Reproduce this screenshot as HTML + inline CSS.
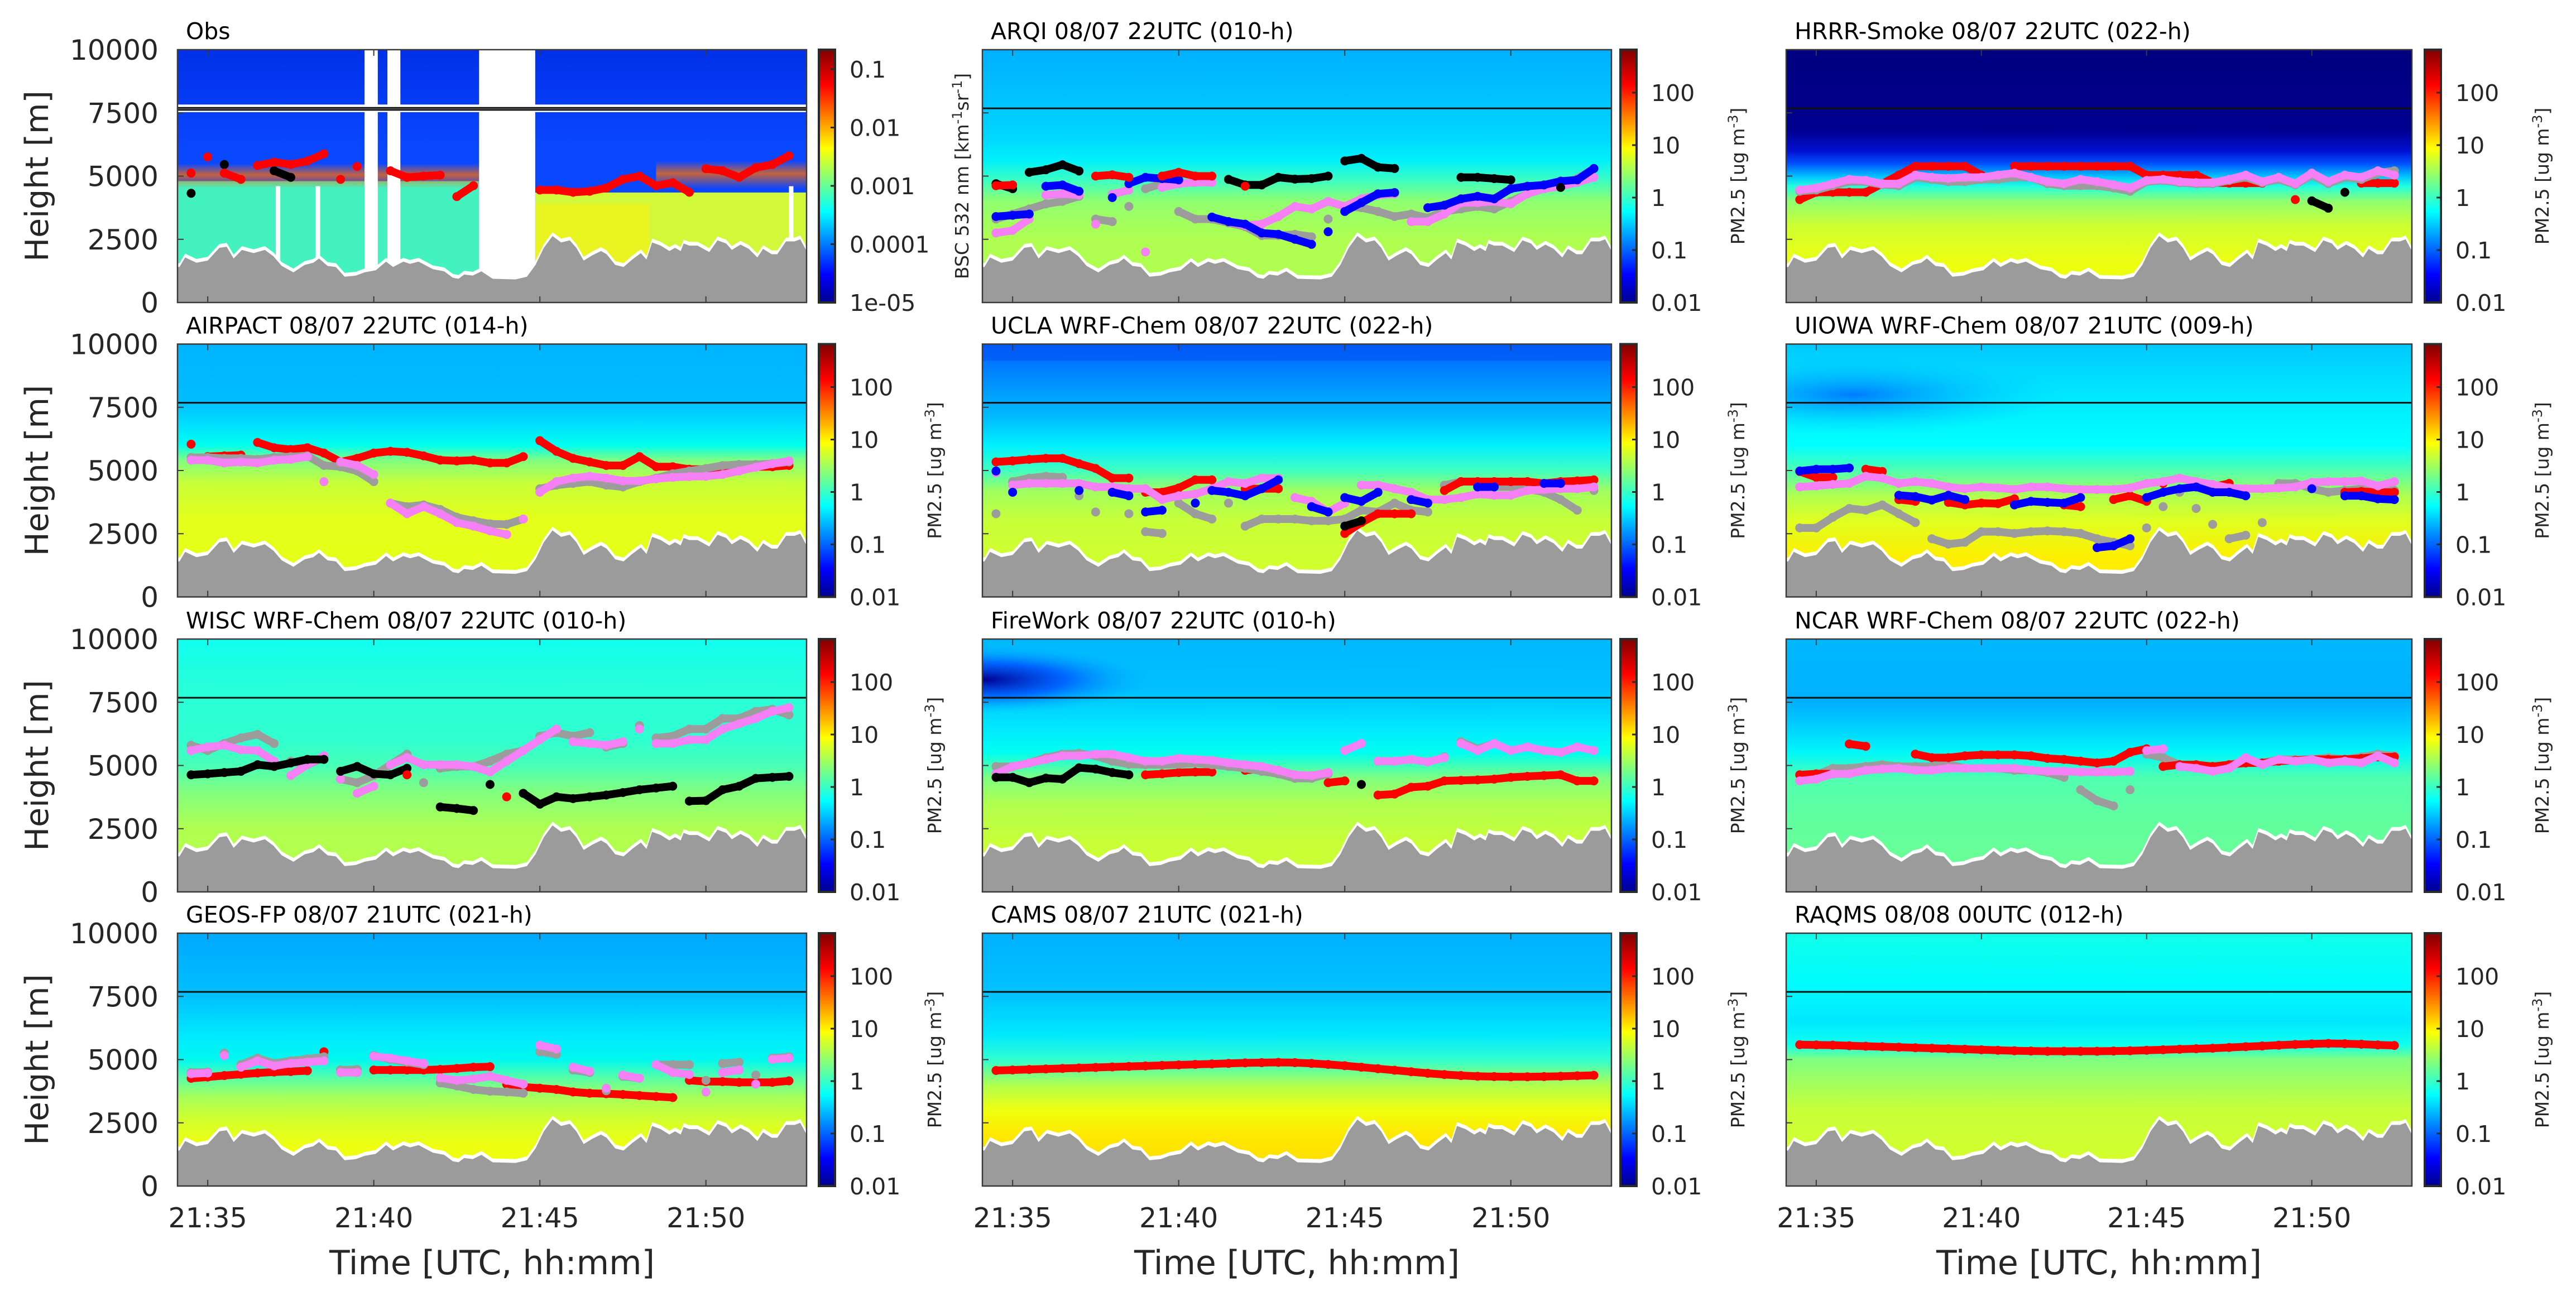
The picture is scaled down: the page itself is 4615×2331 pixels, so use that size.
<!DOCTYPE html>
<html><head><meta charset="utf-8"><title>Smoke layer height comparison</title>
<style>
html,body{margin:0;padding:0;background:#fff;}
svg{display:block;font-family:"DejaVu Sans","Liberation Sans",sans-serif;}
</style></head>
<body>
<svg id="fig" xmlns="http://www.w3.org/2000/svg" width="4615" height="2331" viewBox="0 0 4615 2331">
<defs id="defs"></defs>
<rect x="0" y="0" width="4615" height="2331" fill="#ffffff"/>
</svg>
<script>
// ---------- data ----------
const T = [34.5,35,35.5,36,36.5,37,37.5,38,38.5,39,39.5,40,40.5,41,41.5,42,42.5,43,43.5,44,44.5,45,45.5,46,46.5,47,47.5,48,48.5,49,49.5,50,50.5,51,51.5,52,52.5];
const terrainT = [34.15,34.32,34.66,35.00,35.35,35.57,35.78,36.03,36.38,36.72,36.98,37.23,37.58,37.92,38.18,38.35,38.61,38.86,39.12,39.46,39.72,40.06,40.37,40.58,40.89,41.09,41.35,41.78,42.12,42.38,42.55,42.72,42.98,43.24,43.58,44.27,44.61,44.87,45.12,45.38,45.64,45.90,46.10,46.32,46.58,46.84,47.01,47.27,47.52,47.78,48.04,48.21,48.38,48.64,48.90,49.07,49.24,49.33,49.50,49.75,50.10,50.35,50.61,50.78,51.04,51.29,51.55,51.72,51.98,52.15,52.41,52.67,52.84,53.03];
const terrainH = [1403,1784,1572,1657,2164,2206,1741,2079,1953,2079,1826,1445,1192,1488,1572,1741,1445,1403,1023,1065,1192,1276,1615,1403,1615,1530,1615,1319,1234,981,938,1107,1065,1234,938,913,1023,1488,2164,2629,2375,2460,2164,1657,1868,2037,1910,1488,1403,1699,1953,1699,2375,2249,2037,2164,2037,2333,2249,2249,1995,2460,2333,2079,2291,2122,1784,2122,1910,1910,2418,2418,2502,2037];
const yTicks = [0,2500,5000,7500,10000];
const xTickVals = [35,40,45,50];
const xTickLabels = ['21:35','21:40','21:45','21:50'];
const pmTickVals = [0.01,0.1,1,10,100];
const pmTickLabels = ['0.01','0.1','1','10','100'];
const bscTickVals = [1e-5,1e-4,1e-3,1e-2,1e-1];
const bscTickLabels = ['1e-05','0.0001','0.001','0.01','0.1'];

const obsRed = [5120,5760,5120,4870,5420,5550,5460,5590,5880,4870,5380,null,5210,4950,5000,5040,4190,4620,null,null,null,4450,4450,4360,4400,4530,4870,5000,4620,4740,4360,5290,5210,4950,5330,5460,5800];
const obsBlack = [4320,null,5460,null,null,5210,4950];

const arqiRed = [4620,4650,null,null,null,null,5000,5050,4950,null,5000,5150,5000,5000,null,4600];
const arqiBlack = [4700,4500,5150,5250,5450,5200,null,null,null,null,null,null,null,null,4870,4650,4650,4950,4880,4900,5000,5600,5700,5350,5300,null,null,null,4950,4950,4900,4850,null,null,4550];
const arqiBlue = [3400,3450,3500,4600,4650,4400,null,4150,4700,4950,4900,4850,null,3380,3200,3100,2750,2700,2500,2300,2800,3600,3950,4300,4350,null,3750,3850,4100,4200,4100,4500,4600,4650,4800,4850,5300];
const arqiViolet = [2750,2850,3300,4250,4300,4250,3100,4280,4450,2000,4550,4700,4750,4750,3200,3050,3100,3400,3800,3700,4000,3800,4100,4250,4300,3200,3200,3500,3950,3950,4000,3900,4300,4500,4600,4750,4950];
const arqiGray = [3300,3500,3700,3900,4000,4200,3300,3200,3800,4500,4700,3600,3300,3300,3150,3000,2650,2650,2700,2600,3300,3800,3750,3600,3400,3500,3350,3600,3700,3800,3700,4000,4300,4500,4700,4900,5300];

const hrrrRed = [4070,4360,4360,4360,4360,4700,5040,5390,5390,5390,5390,5040,null,5390,5390,5390,5390,5390,5390,5390,5390,5040,5040,5040,5040,4740,4720,4720,4720,null,4070,null,null,null,4720,4720,4720];
const hrrrViolet = [4450,4530,4700,4870,4830,4700,4700,5040,4950,4910,4950,4950,5040,5120,4950,4780,4700,4870,4780,4660,4530,4830,4870,4780,4740,4740,4870,5040,4780,4950,4700,5120,4780,5040,4950,5210,5040];
const hrrrGray = [4400,4450,4620,4780,4780,4660,4620,4950,4870,4780,4780,4870,4870,4950,4950,4700,4620,4620,4620,4530,4400,4780,4830,4740,4700,4700,4830,4950,4740,4870,4660,5040,4700,4950,4870,5120,5210];
const hrrrBlack = [null,null,null,null,null,null,null,null,null,null,null,null,null,null,null,null,null,null,null,null,null,null,null,null,null,null,null,null,null,null,null,4020,3730,4360];

const airRed = [6040,5550,5580,5610,6110,5900,5830,5900,5690,5340,5480,5690,5760,5720,5580,5410,5380,5410,5300,5300,5550,6180,5760,5480,5340,5200,5200,5550,5150,5150,5050,5050,5050,5010,5150,5150,5200];
const airViolet = [5410,5410,5300,5340,5300,5410,5440,5550,4560,5340,5200,4840,3710,3290,3570,3290,2940,2800,2610,2470,3080,4140,4560,4700,4770,4700,4590,4590,4670,4730,4760,4770,4840,4980,5130,5270,5380];
const airGray = [5520,5520,5480,5480,5440,5520,5550,5580,5200,5150,4980,4560,3710,3570,3640,3460,3150,3010,2890,2870,3080,4280,4420,4490,4560,4420,4350,4560,4700,4870,4980,5080,5200,5240,5240,5270,5340];

const uclaRed = [5340,5380,5440,5480,5480,5270,5080,4700,4700,4140,4140,4310,4630,4630,null,4280,4280,4280,null,null,null,2510,2940,3290,3290,3290,null,4210,4560,4560,4560,4560,4560,4490,4560,4590,4630];
const uclaViolet = [4910,4420,4490,4490,4490,4490,4350,4350,4280,4280,3850,4000,4070,4280,4560,4490,4700,4700,3930,3780,3360,3710,4420,4420,4280,4140,3850,3850,3930,4070,4020,4020,4210,4250,4280,4280,4350];
const uclaBlue = [4980,4140,null,null,null,4210,null,4140,4000,3360,3430,null,3710,4210,4140,4000,4280,4630,null,3570,3360,3930,3780,4140,null,3850,3710,null,null,4350,4350,null,null,4490,4490];
const uclaGray = [3290,4560,4700,4770,4730,4000,3360,4280,3290,2580,2510,3710,3290,3080,3710,2800,3080,3080,3080,3010,3010,3080,3430,3360,3710,3430,3360,4420,4560,4560,4350,4350,4280,4140,3850,3430,4210];
const uclaBlack = [null,null,null,null,null,null,null,null,null,null,null,null,null,null,null,null,null,null,null,null,null,2800,3010];

const uiowaBlue = [4980,5050,5050,5100,null,null,4020,3970,3830,4020,3850,null,null,3640,3780,3740,3710,3930,1950,2020,2300,3930,4140,4280,4350,4140,4140,4000,null,null,null,4280,null,4000,4000,3880,3850];
const uiowaRed = [4960,4730,4730,null,5050,4960,3850,3780,null,3740,3640,3710,3690,3880,null,null,3640,3570,null,3850,4000,3780,4490,null,null,4350,4490,null,null,null,null,null,null,4140,4170,4140,4140];
const uiowaViolet = [4350,4390,4450,4490,4770,4700,4490,4560,4490,4350,4280,4350,4310,4250,4350,4350,4280,4250,4250,4250,4310,4490,4560,4700,4560,4450,4310,4280,4280,4310,4350,4530,4560,4560,4590,4390,4560];
const uiowaGray = [2730,2730,3150,3500,3430,3640,3290,2940,2300,2090,2160,2580,2580,2510,2580,2610,2580,2510,2300,2160,2020,2730,3570,4140,3500,2870,2300,2440,2940,4490,4490,4280,4140,4210,4280,4280,4210];

const wiscViolet = [5590,5730,5800,5620,5590,5170,4600,5030,5380,4460,3900,4180,5030,5310,5030,5030,5030,4960,4740,5170,5590,6020,6440,5940,5870,5800,5940,6440,5870,5870,6020,6020,6440,6650,6860,7140,7290];
const wiscGray = [5800,5590,5870,6090,6230,5870,5170,5030,5310,4460,4320,4600,5030,5450,4320,4890,4960,4960,5170,5450,5590,6160,6300,6160,6300,5730,5870,6580,6090,6160,6440,6440,6860,6860,7140,7220,7000];
const wiscBlack = [4630,4670,4720,4770,5030,4960,5100,5240,5240,4770,4960,4670,4630,4890,null,3360,3300,3220,4250,null,3900,3470,3760,3690,3760,3830,3930,4040,4110,4180,3590,3610,4040,4180,4490,4530,4570];
const wiscRed = [null,null,null,null,null,null,null,null,null,null,null,null,null,4630,null,null,null,null,null,3760];

const fireViolet = [4670,4960,5100,5240,5380,5380,5450,5450,5310,5170,5170,5280,5240,5200,5100,5030,4960,4810,4630,4600,4720,5590,5870,5170,5170,5240,5140,5310,5870,5590,5870,5590,5730,5590,5520,5730,5590];
const fireGray = [4960,4960,5100,5310,5450,5480,5380,5170,5050,5030,5030,5050,5100,5030,4960,4890,4770,4670,4490,4490,4670,null,null,null,null,null,null,5340,5940,5660,5870];
const fireBlack = [4530,4530,4320,4500,4460,4910,4860,4720,4630,null,null,null,null,null,null,null,null,null,null,null,null,null,4250];
const fireRed = [null,null,null,null,null,null,null,null,null,4630,4670,4720,4740,4740,null,4810,4860,4810,4600,null,4320,4390,null,3830,3870,4140,4180,4390,4410,4430,4460,4530,4570,4600,4630,4390,4390];

const ncarRed = [4630,4670,4670,5850,5760,null,null,5450,5310,5310,5380,5420,5420,5420,5380,5280,5240,5170,5100,5170,5520,5660,4960,5030,5030,4960,5030,5100,5100,5170,5200,5240,5240,5240,5280,5340,5340];
const ncarViolet = [4390,4460,4670,4670,4810,4860,4890,4810,4810,4890,4890,4890,4890,4890,4810,4770,4770,4740,4740,4740,4770,5590,5660,4960,4890,4770,4890,5310,5030,5240,5170,5240,5100,5170,5100,5380,5100];
const ncarGray = [4630,4630,4890,4890,4960,5030,4960,4960,4960,5050,4890,4890,4890,4810,4810,4720,4530,4040,3610,3400,4040,5450,5310,5030,4960,4960,5030,5170,5100,5240,5240,5240,5310,5240,5340,5450,5380];

const geosRed = [4260,4310,4370,4420,4470,4510,4530,4560,5310,4590,null,4590,4590,4590,4590,4610,4650,4700,4720,4030,3920,3870,3820,3720,3670,3650,3620,3580,3540,3500,4180,4130,4130,4100,4100,4100,4160];
const geosViolet = [4440,4470,5160,4700,4950,4750,4850,4900,4950,4490,4490,5130,5060,4950,4850,4280,4180,4230,4340,4180,4030,5570,5420,4700,4540,3870,4390,4260,4800,4490,4410,3720,4490,4590,4030,5010,5060];
const geosGray = [4490,4510,5260,4800,5060,4850,4950,5030,5110,4590,4610,5160,5010,4900,4800,4080,3960,3820,3750,3720,3670,5310,5210,4590,4490,3770,4340,4260,4800,4800,4800,4180,4850,4900,4390,5060,5110];

const camsRed = [4570,4590,4610,4630,4650,4670,4690,4710,4730,4750,4770,4790,4810,4830,4850,4870,4880,4890,4880,4850,4810,4760,4700,4640,4580,4520,4460,4410,4370,4340,4330,4320,4320,4330,4340,4360,4380];
const raqmsRed = [5590,5580,5570,5550,5530,5510,5490,5470,5450,5430,5410,5390,5370,5350,5340,5330,5330,5330,5330,5340,5350,5370,5390,5410,5430,5450,5480,5510,5540,5570,5600,5620,5640,5630,5610,5580,5560];

// ---------- layout / style ----------
const NS = 'http://www.w3.org/2000/svg';
const svg = document.getElementById('fig');
const defs = document.getElementById('defs');
const ROW_TOP = [89, 616.5, 1145, 1672];
const COL_LEFT = [318, 1760, 3200];
const COL_W = [1127, 1127, 1121];
const PH = 453;
const T0 = 34.09, T1 = 53.03;
const CB_X = [1467, 2903, 4344];
const CB_W = 29;
const CB_LABEL_X = [1675, 3114, 4555];
const COLORS = {red:'#ff0000', black:'#000000', blue:'#0000ff', gray:'#9c9c9c', violet:'#f57ff5'};

function xs(c, t){ return COL_LEFT[c] + (t - T0) / (T1 - T0) * COL_W[c]; }
function ys(r, h){ return ROW_TOP[r] + PH - h / 10000 * PH; }
function mk(tag, attrs, parent){
  const e = document.createElementNS(NS, tag);
  for (const k in attrs) e.setAttribute(k, attrs[k]);
  (parent || svg).appendChild(e);
  return e;
}

const GRADS = {
  arqi:[[10000,'#00b0ff'],[8000,'#00c4ff'],[6500,'#00d8ff'],[5600,'#00f0fa'],[4800,'#40ffc0'],[4000,'#90ff70'],[2500,'#b0ff50'],[0,'#b0ff50']],
  hrrr:[[10000,'#000080'],[6800,'#000090'],[6000,'#0010d0'],[5500,'#0050ff'],[5000,'#00c0ff'],[4600,'#20ffe0'],[4000,'#90ff70'],[3000,'#d0ff30'],[1500,'#eeff10'],[0,'#eeff10']],
  airpact:[[10000,'#00b4ff'],[7800,'#00bcff'],[6800,'#00e0ff'],[6000,'#00fff0'],[5400,'#80ff80'],[4500,'#c8ff38'],[3000,'#e4ff1a'],[0,'#e8ff18']],
  ucla:[[10000,'#0060ff'],[8500,'#0090ff'],[7000,'#00c0ff'],[6000,'#00f0ff'],[5000,'#40ffc0'],[4200,'#a0ff60'],[3000,'#c8ff38'],[0,'#d8ff28']],
  uiowa:[[10000,'#00c8ff'],[8000,'#00e8ff'],[6000,'#00ffff'],[5000,'#50ffb0'],[4000,'#b0ff50'],[3000,'#e0ff20'],[1500,'#ffee00'],[0,'#ffee00']],
  wisc:[[10000,'#10fff0'],[8000,'#28ffd8'],[6000,'#30ffd0'],[5000,'#48ffb8'],[4000,'#80ff80'],[2500,'#b0ff50'],[0,'#b8ff48']],
  firework:[[10000,'#00b8ff'],[8000,'#00c0ff'],[6500,'#00e8ff'],[5500,'#00fff0'],[4500,'#80ff80'],[3500,'#b0ff50'],[2000,'#c8ff38'],[0,'#d0ff30']],
  ncar:[[10000,'#00b8ff'],[7500,'#00b0ff'],[6500,'#00d0ff'],[5500,'#00f8f8'],[4500,'#50ffb0'],[3000,'#60ffa0'],[0,'#70ff90']],
  geos:[[10000,'#00a8ff'],[7500,'#00c0ff'],[6000,'#00e8ff'],[5000,'#00f8f0'],[4200,'#60ffa0'],[3500,'#a8ff58'],[2500,'#d8ff28'],[1500,'#f0ff10'],[0,'#f0ff10']],
  cams:[[10000,'#00b0ff'],[7500,'#00c4ff'],[6000,'#00e8ff'],[5000,'#30ffd0'],[4000,'#b0ff50'],[3000,'#f0ff10'],[2000,'#ffe800'],[0,'#ffd800']],
  raqms:[[10000,'#10ffe8'],[8000,'#00fcff'],[6500,'#00e8ff'],[5600,'#10fff0'],[5000,'#80ff80'],[3000,'#c8ff38'],[0,'#d8ff28']],
  obs:[[10000,'#0030e8'],[6000,'#0a48ff'],[0,'#0a48ff']]
};
for (const key in GRADS){
  const g = mk('linearGradient', {id:'g-'+key, x1:0, y1:0, x2:0, y2:1}, defs);
  GRADS[key].forEach(s => mk('stop', {offset:(1 - s[0]/10000), 'stop-color':s[1]}, g));
}
(function(){
  const jet = mk('linearGradient', {id:'jet', x1:0, y1:1, x2:0, y2:0}, defs);
  [[0,'#00008f'],[0.11,'#0000ff'],[0.36,'#00ffff'],[0.61,'#ffff00'],[0.86,'#ff0000'],[1,'#800000']].forEach(s => mk('stop', {offset:s[0], 'stop-color':s[1]}, jet));
  const blob = mk('radialGradient', {id:'blob'}, defs);
  mk('stop', {offset:0, 'stop-color':'#000090', 'stop-opacity':1}, blob);
  mk('stop', {offset:0.5, 'stop-color':'#0040ff', 'stop-opacity':0.7}, blob);
  mk('stop', {offset:1, 'stop-color':'#00a8ff', 'stop-opacity':0}, blob);
  const blob2 = mk('radialGradient', {id:'blob2'}, defs);
  mk('stop', {offset:0, 'stop-color':'#0070ff', 'stop-opacity':0.9}, blob2);
  mk('stop', {offset:1, 'stop-color':'#00c8ff', 'stop-opacity':0}, blob2);
  const band = mk('linearGradient', {id:'obsband', x1:0, y1:0, x2:0, y2:1}, defs);
  mk('stop', {offset:0, 'stop-color':'#ff6a00', 'stop-opacity':0}, band);
  mk('stop', {offset:0.45, 'stop-color':'#ff6a00', 'stop-opacity':0.75}, band);
  mk('stop', {offset:1, 'stop-color':'#ff6a00', 'stop-opacity':0}, band);
})();

const PANELS = [
  {name:'obs', title:'Obs', r:0, c:0, bg:'obs', cb:'bsc', series:[['black',obsBlack],['red',obsRed]]},
  {name:'arqi', title:'ARQI 08/07 22UTC (010-h)', r:0, c:1, bg:'arqi', cb:'pm', series:[['gray',arqiGray],['violet',arqiViolet],['blue',arqiBlue],['black',arqiBlack],['red',arqiRed]]},
  {name:'hrrr-smoke', title:'HRRR-Smoke 08/07 22UTC (022-h)', r:0, c:2, bg:'hrrr', cb:'pm', series:[['red',hrrrRed],['gray',hrrrGray],['violet',hrrrViolet],['black',hrrrBlack]]},
  {name:'airpact', title:'AIRPACT 08/07 22UTC (014-h)', r:1, c:0, bg:'airpact', cb:'pm', series:[['red',airRed],['gray',airGray],['violet',airViolet]]},
  {name:'ucla-wrf-chem', title:'UCLA WRF-Chem 08/07 22UTC (022-h)', r:1, c:1, bg:'ucla', cb:'pm', series:[['gray',uclaGray],['red',uclaRed],['violet',uclaViolet],['blue',uclaBlue],['black',uclaBlack]]},
  {name:'uiowa-wrf-chem', title:'UIOWA WRF-Chem 08/07 21UTC (009-h)', r:1, c:2, bg:'uiowa', cb:'pm', series:[['gray',uiowaGray],['red',uiowaRed],['violet',uiowaViolet],['blue',uiowaBlue]]},
  {name:'wisc-wrf-chem', title:'WISC WRF-Chem 08/07 22UTC (010-h)', r:2, c:0, bg:'wisc', cb:'pm', series:[['gray',wiscGray],['violet',wiscViolet],['black',wiscBlack],['red',wiscRed]]},
  {name:'firework', title:'FireWork 08/07 22UTC (010-h)', r:2, c:1, bg:'firework', cb:'pm', series:[['red',fireRed],['gray',fireGray],['violet',fireViolet],['black',fireBlack]]},
  {name:'ncar-wrf-chem', title:'NCAR WRF-Chem 08/07 22UTC (022-h)', r:2, c:2, bg:'ncar', cb:'pm', series:[['gray',ncarGray],['red',ncarRed],['violet',ncarViolet]]},
  {name:'geos-fp', title:'GEOS-FP 08/07 21UTC (021-h)', r:3, c:0, bg:'geos', cb:'pm', series:[['red',geosRed],['gray',geosGray],['violet',geosViolet]]},
  {name:'cams', title:'CAMS 08/07 21UTC (021-h)', r:3, c:1, bg:'cams', cb:'pm', series:[['red',camsRed]]},
  {name:'raqms', title:'RAQMS 08/08 00UTC (012-h)', r:3, c:2, bg:'raqms', cb:'pm', series:[['red',raqmsRed]]}
];

function terrainPoints(r, c, offset){
  let pts = [];
  pts.push([xs(c, T0), ys(r, terrainH[0] + offset)]);
  for (let i = 0; i < terrainT.length; i++) pts.push([xs(c, terrainT[i]), ys(r, terrainH[i] + offset)]);
  pts.push([xs(c, T1), ys(r, terrainH[terrainH.length-1] + offset)]);
  pts.push([xs(c, T1), ys(r, 0)]);
  pts.push([xs(c, T0), ys(r, 0)]);
  return pts.map(p => p[0].toFixed(1) + ',' + p[1].toFixed(1)).join(' ');
}

PANELS.forEach(p => {
  const r = p.r, c = p.c, L = COL_LEFT[c], W = COL_W[c], top = ROW_TOP[r];
  const g = mk('g', {});
  
  
  const cp = mk('clipPath', {id:'clip-' + p.name}, defs);
  mk('rect', {x:L, y:top, width:W, height:PH}, cp);
  const inner = mk('g', {'clip-path':'url(#clip-' + p.name + ')'}, g);

  const bgRect = mk('rect', {x:L, y:top, width:W, height:PH, fill:'url(#g-' + p.bg + ')'}, inner);
  
  

  if (p.bg === 'obs'){
    const lowL = mk('rect', {x:xs(c,T0), y:ys(r,4800), width:xs(c,43.17)-xs(c,T0), height:ys(r,0)-ys(r,4800), fill:'#44f2c0'}, inner);
    
    
    const lowR = mk('rect', {x:xs(c,44.86), y:ys(r,4350), width:xs(c,T1)-xs(c,44.86), height:ys(r,0)-ys(r,4350), fill:'#d2f83a'}, inner);
    
    
    const yel = mk('rect', {x:xs(c,44.86), y:ys(r,3900), width:xs(c,48.3)-xs(c,44.86), height:ys(r,0)-ys(r,3900), fill:'#eaf420'}, inner);
    
    
    const bandL = mk('rect', {x:xs(c,T0), y:ys(r,5500), width:xs(c,43.17)-xs(c,T0), height:ys(r,4500)-ys(r,5500), fill:'url(#obsband)'}, inner);
    
    
    const bandR = mk('rect', {x:xs(c,48.5), y:ys(r,5600), width:xs(c,T1)-xs(c,48.5), height:ys(r,4500)-ys(r,5600), fill:'url(#obsband)'}, inner);
    
    
    const band = mk('rect', {x:L, y:ys(r,7830), width:W, height:ys(r,7530)-ys(r,7830), fill:'#ffffff'}, inner);
    
    
    [[39.72,40.12],[40.41,40.80],[43.17,44.86]].forEach(gap => {
      const gr = mk('rect', {x:xs(c,gap[0]), y:top, width:xs(c,gap[1])-xs(c,gap[0]), height:PH, fill:'#ffffff'}, inner);
      
      
    });
    [37.05, 38.25, 52.5].forEach(t => {
      const st = mk('rect', {x:xs(c,t), y:ys(r,4600), width:8, height:ys(r,1200)-ys(r,4600), fill:'#ffffff'}, inner);
      
      
    });
    [7620, 7700].forEach(h => {
      const ln = mk('line', {x1:L, x2:L+W, y1:ys(r,h), y2:ys(r,h), stroke:'#111', 'stroke-width':3}, inner);
      
      
    });
  } else {
    if (p.bg === 'firework'){
      const b = mk('ellipse', {cx:L, cy:ys(r,8400), rx:300, ry:60, fill:'url(#blob)'}, inner);
      
      
    }
    if (p.bg === 'uiowa'){
      const b = mk('ellipse', {cx:L+120, cy:ys(r,8000), rx:380, ry:70, fill:'url(#blob2)'}, inner);
      
      
    }
    if (p.bg === 'ucla'){
      const b = mk('rect', {x:L, y:top, width:W, height:30, fill:'#0050f0', opacity:0.5}, inner);
      
      
    }
    const ln = mk('line', {x1:L, x2:L+W, y1:ys(r,7680), y2:ys(r,7680), stroke:'#111', 'stroke-width':3}, inner);
    
    
  }

  const wt = mk('polygon', {points:terrainPoints(r, c, 150), fill:'#ffffff'}, inner);
  
  
  const tr = mk('polygon', {points:terrainPoints(r, c, 0), fill:'#9b9b9b'}, inner);
  
  

  p.series.forEach(s => {
    const color = COLORS[s[0]], vals = s[1];
    const sg = mk('g', {}, inner);
    
    
    for (let i = 1; i < T.length; i++){
      const a = vals[i-1], b = vals[i];
      if (a == null || b == null) continue;
      if (Math.abs(a - b) > 450) continue;
      const seg = mk('line', {x1:xs(c,T[i-1]), y1:ys(r,a), x2:xs(c,T[i]), y2:ys(r,b), stroke:color, 'stroke-width':14, 'stroke-linecap':'round'}, sg);
      
      
    }
    for (let i = 0; i < T.length; i++){
      const v = vals[i];
      if (v == null) continue;
      const dot = mk('circle', {cx:xs(c,T[i]), cy:ys(r,v), r:8, fill:color}, sg);
      
      
    }
  });

  const box = mk('rect', {x:L, y:top, width:W, height:PH, fill:'none', stroke:'#3a3a3a', 'stroke-width':2.5}, g);
  
  
  yTicks.forEach(h => {
    const tk = mk('line', {x1:L, x2:L+11, y1:ys(r,h), y2:ys(r,h), stroke:'#3a3a3a', 'stroke-width':2}, g);
    
    
  });
  xTickVals.forEach(t => {
    const tk = mk('line', {x1:xs(c,t), x2:xs(c,t), y1:top+PH, y2:top+PH-11, stroke:'#3a3a3a', 'stroke-width':2}, g);
    
    
    const tk2 = mk('line', {x1:xs(c,t), x2:xs(c,t), y1:top, y2:top+11, stroke:'#3a3a3a', 'stroke-width':2}, g);
    
    
  });

  const tt = mk('text', {x:L+15, y:top-19, 'font-size':41, fill:'#000'}, g);
  tt.textContent = p.title;
  
  

  if (c === 0){
    yTicks.forEach(h => {
      const lb = mk('text', {x:L-34, y:ys(r,h)+18, 'font-size':50, fill:'#262626', 'text-anchor':'end'}, g);
      lb.textContent = String(h);
      
      
    });
    const yl = mk('text', {x:0, y:0, 'font-size':57, fill:'#262626', 'text-anchor':'middle', transform:'translate(86,' + (top+PH/2) + ') rotate(-90)'}, g);
    yl.textContent = 'Height [m]';
    
    
  }
  if (r === 3){
    xTickVals.forEach((t, i) => {
      const lb = mk('text', {x:xs(c,t), y:2199, 'font-size':49, fill:'#262626', 'text-anchor':'middle'}, g);
      lb.textContent = xTickLabels[i];
      
      
    });
    const xl = mk('text', {x:L + W/2, y:2283, 'font-size':60, fill:'#262626', 'text-anchor':'middle'}, g);
    xl.textContent = 'Time [UTC, hh:mm]';
    
    
  }

  const cbx = CB_X[c];
  const cbg = mk('g', {}, g);
  
  
  mk('rect', {x:cbx, y:top, width:CB_W, height:PH, fill:'url(#jet)', stroke:'#2a2a2a', 'stroke-width':4}, cbg);
  let vals, labels, lo, hi;
  if (p.cb === 'bsc'){ vals = bscTickVals; labels = bscTickLabels; lo = -5; hi = -5 + PH/104.5; }
  else { vals = pmTickVals; labels = pmTickLabels; lo = -2; hi = -2 + PH/94; }
  vals.forEach((v, i) => {
    const yy = top + PH - (Math.log10(v) - lo) / (hi - lo) * PH;
    const tk = mk('line', {x1:cbx+CB_W-8, x2:cbx+CB_W, y1:yy, y2:yy, stroke:'#2a2a2a', 'stroke-width':3}, cbg);
    
    
    const lb = mk('text', {x:cbx+CB_W+26, y:yy+15, 'font-size':41, fill:'#262626'}, cbg);
    lb.textContent = labels[i];
    
    
  });
  const cl = mk('text', {x:0, y:0, 'font-size':33, fill:'#262626', 'text-anchor':'middle',
    transform:'translate(' + (p.cb === 'bsc' ? 1735 : CB_LABEL_X[c] + 11) + ',' + (top + PH/2) + ') rotate(-90)'}, cbg);
  if (p.cb === 'bsc'){
    cl.appendChild(document.createTextNode('BSC 532 nm [km'));
    const s1 = mk('tspan', {dy:-12, 'font-size':24}, cl); s1.textContent = '-1';
    const s2 = mk('tspan', {dy:12}, cl); s2.textContent = 'sr';
    const s3 = mk('tspan', {dy:-12, 'font-size':24}, cl); s3.textContent = '-1';
    const s4 = mk('tspan', {dy:12}, cl); s4.textContent = ']';
  } else {
    cl.appendChild(document.createTextNode('PM2.5 [ug m'));
    const s1 = mk('tspan', {dy:-12, 'font-size':24}, cl); s1.textContent = '-3';
    const s2 = mk('tspan', {dy:12}, cl); s2.textContent = ']';
  }
  
  
});
</script>
</body></html>
